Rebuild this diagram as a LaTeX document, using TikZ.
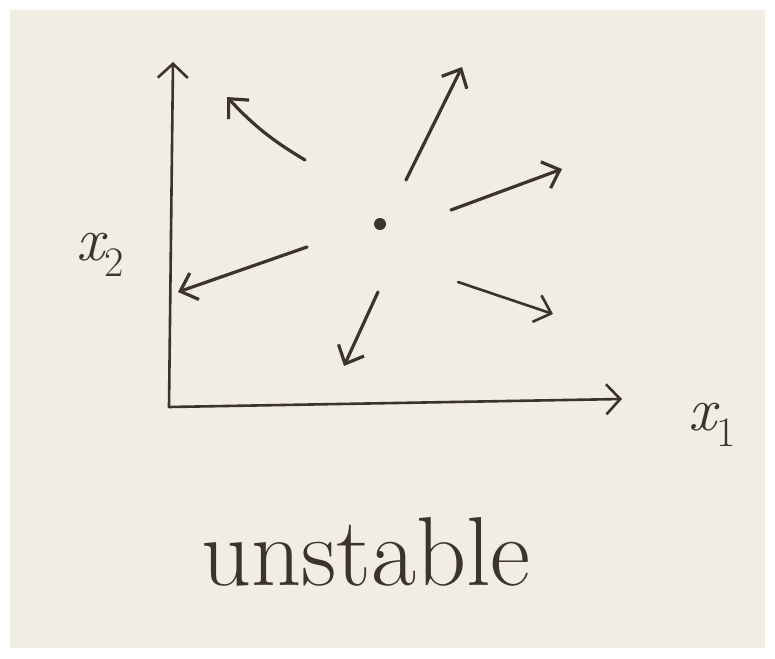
\documentclass[tikz,border=0pt]{standalone}
\usepackage{tikz}
\usetikzlibrary{arrows.meta}
\definecolor{pencil}{HTML}{3B332C}
\definecolor{paper}{HTML}{F1ECE4}
\tikzset{
  axisarr/.style={-{Straight Barb[length=14pt,width=30pt]},line width=2.6pt,color=pencil,line cap=round},
  flowarr/.style={-{Straight Barb[length=15pt,width=28pt]},line width=3.2pt,color=pencil,line cap=round},
  hand/.style={text=pencil,inner sep=0pt}
}
\newcommand{\axlabel}[1]{\fontsize{62}{64}\selectfont\itshape x\raisebox{-0.25em}{\fontsize{42}{44}\selectfont\upshape #1}}
\begin{document}
\begin{tikzpicture}[x=1pt,y=-1pt]
  % page and paper
  \useasboundingbox (0,0) rectangle (775,658);
  \fill[white] (0,0) rectangle (775,658);
  \fill[paper] (10,10) rectangle (765,648);
  % axes
  \coordinate (origin) at (169,407);
  \coordinate (ytop) at (173,62);
  \coordinate (xend) at (622,399);
  \draw[axisarr] (origin) -- (ytop);
  \draw[axisarr] (origin) -- (xend);
  \node[hand] (xtwo) at (100,255) {\axlabel{2}};
  \node[hand] (xone) at (712,425) {\axlabel{1}};
  % fixed point
  \fill[pencil] (380,224) circle (6);
  % trajectories leaving the point
  \coordinate (a0) at (305,160); \coordinate (a1) at (227,97);
  \coordinate (b0) at (406,180); \coordinate (b1) at (462,67);
  \coordinate (c0) at (451,210); \coordinate (c1) at (562,169);
  \coordinate (d0) at (307,247); \coordinate (d1) at (178,292);
  \coordinate (e0) at (458,282); \coordinate (e1) at (553,314);
  \coordinate (f0) at (378,292); \coordinate (f1) at (344,366);
  \draw[flowarr] (a0) to[bend left=8] (a1);
  \draw[flowarr] (b0) -- (b1);
  \draw[flowarr] (c0) -- (c1);
  \draw[flowarr] (d0) -- (d1);
  \draw[flowarr,line width=2.6pt] (e0) -- (e1);
  \draw[flowarr] (f0) -- (f1);
  % caption
  \node[hand,font=\fontsize{98}{100}\selectfont] (caption) at (366,552) {unstable};
\end{tikzpicture}
\end{document}
